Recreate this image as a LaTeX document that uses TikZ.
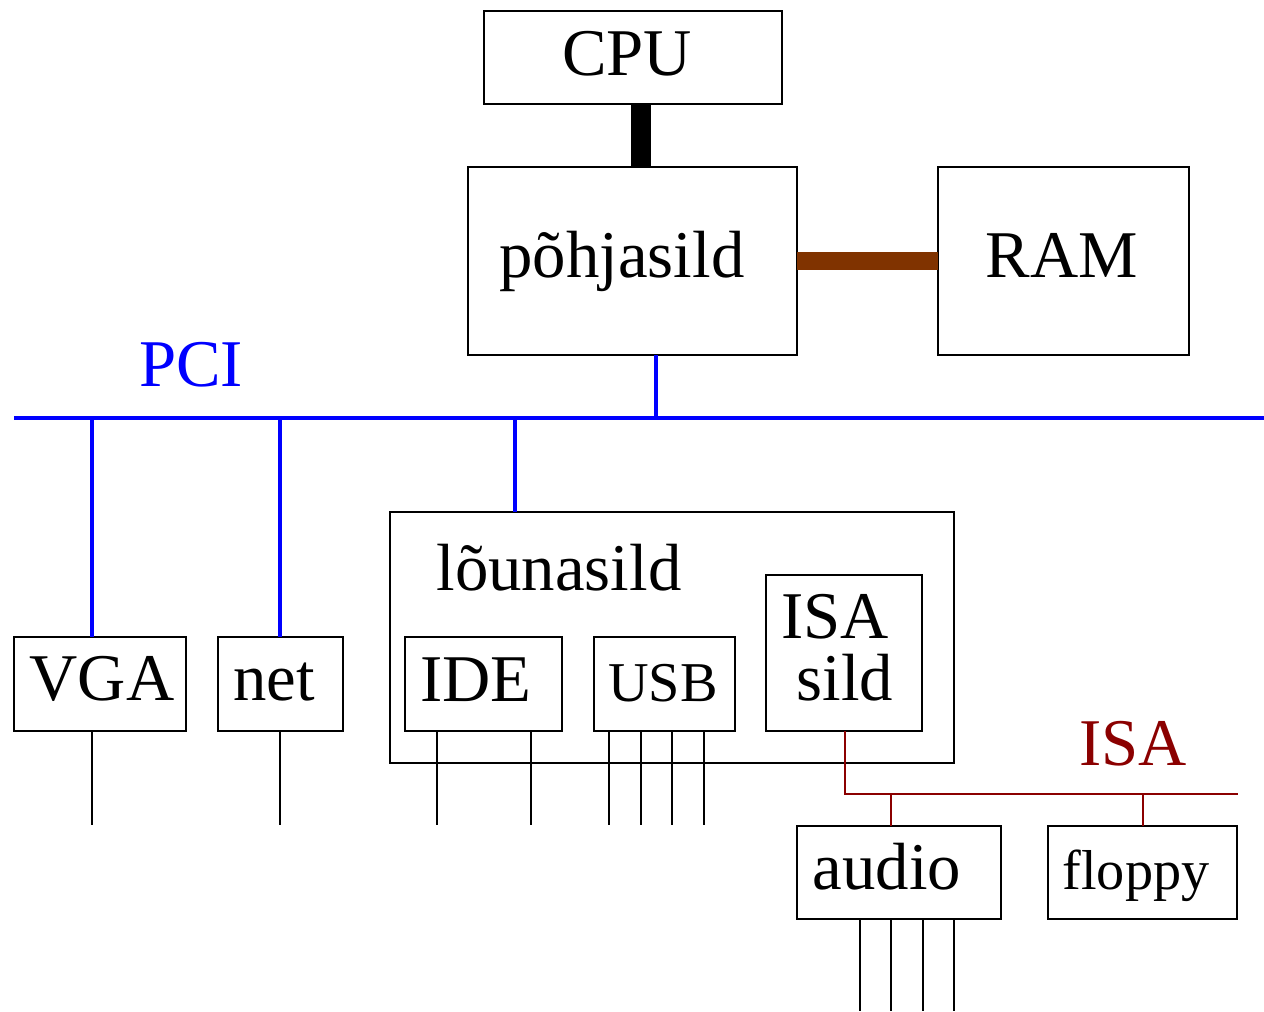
\documentclass[tikz,border=0pt]{standalone}
\usepackage{fontspec}
\setmainfont{Liberation Serif}
\definecolor{pciblue}{RGB}{0,0,255}
\definecolor{isared}{RGB}{139,0,0}
\definecolor{rambrown}{RGB}{128,51,0}
\begin{document}
\begin{tikzpicture}[x=0.02cm,y=-0.02cm,
  box/.style={draw=black,line width=1.5pt,inner sep=0pt,outer sep=0pt,fill=none},
  big/.style={font=\fontsize{38}{44}\selectfont,anchor=base,inner sep=0pt},
  small/.style={font=\fontsize{32}{38}\selectfont,anchor=base,inner sep=0pt},
  pcibus/.style={draw=pciblue,line width=2.6pt},
  isabus/.style={draw=isared,line width=1.3pt},
  wire/.style={draw=black,line width=1.1pt},
  cpubus/.style={draw=black,line width=11pt},
  membus/.style={draw=rambrown,line width=10.5pt}]
\useasboundingbox (0,0) rectangle (1264,1011);
% boxes
\node[box,minimum width=5.96cm,minimum height=1.86cm] (cpu) at (633,57.5) {};
\node[box,minimum width=6.58cm,minimum height=3.76cm] (nb) at (632.5,261) {};
\node[box,minimum width=5.02cm,minimum height=3.76cm] (ram) at (1063.5,261) {};
\node[box,minimum width=3.44cm,minimum height=1.88cm] (vga) at (100,684) {};
\node[box,minimum width=2.50cm,minimum height=1.88cm] (net) at (280.5,684) {};
\node[box,minimum width=11.28cm,minimum height=5.02cm] (sb) at (672,637.5) {};
\node[box,minimum width=3.14cm,minimum height=1.88cm] (ide) at (483.5,684) {};
\node[box,minimum width=2.82cm,minimum height=1.88cm] (usb) at (664.5,684) {};
\node[box,minimum width=3.12cm,minimum height=3.12cm] (isab) at (844,653) {};
\node[box,minimum width=4.08cm,minimum height=1.86cm] (audio) at (899,872.5) {};
\node[box,minimum width=3.78cm,minimum height=1.86cm] (floppy) at (1142.5,872.5) {};
% labels
\node[big] (tcpu) at (627,75) {CPU};
\node[big] (tnb) at (622,277) {põhjasild};
\node[big] (tram) at (1062,277) {RAM};
\node[big,text=pciblue] (tpci) at (191,386) {PCI};
\node[big] (tsb) at (559,590) {lõunasild};
\node[big] (tvga) at (102,700) {VGA};
\node[big] (tnet) at (274,700) {net};
\node[big] (tide) at (476,701) {IDE};
\node[small] (tusb) at (663,701) {USB};
\node[big] (tisa1) at (835,638) {ISA};
\node[big] (tisa2) at (845,700) {sild};
\node[big,text=isared] (tisa) at (1133,765) {ISA};
\node[big] (taudio) at (887,889) {audio};
\node[small] (tfloppy) at (1136,889) {floppy};
% coordinates
\coordinate (xcpu) at (641,0);
\coordinate (xnb) at (656,0);
\coordinate (pciL) at (14,418);
\coordinate (pciR) at (1264,418);
\coordinate (xvga) at (92,0);
\coordinate (xnet) at (280,0);
\coordinate (xsb) at (515,0);
\coordinate (isaR) at (1238,794);
\coordinate (xaud) at (891,0);
\coordinate (xflp) at (1143,0);
\coordinate (bot) at (0,825);
\coordinate (bot2) at (0,1011);
% buses
\draw[cpubus] (cpu.south -| xcpu) -- (nb.north -| xcpu);
\draw[membus] (nb.east) -- (ram.west);
\draw[pcibus] (pciL) -- (pciR);
\draw[pcibus] (nb.south -| xnb) -- (pciL -| xnb);
\draw[pcibus] (pciL -| xvga) -- (vga.north -| xvga);
\draw[pcibus] (pciL -| xnet) -- (net.north -| xnet);
\draw[pcibus] (pciL -| xsb) -- (sb.north -| xsb);
\draw[isabus] (isab.south -| 845,0) |- (isaR);
\draw[isabus] (isaR -| xaud) -- (audio.north -| xaud);
\draw[isabus] (isaR -| xflp) -- (floppy.north -| xflp);
% device wires
\draw[wire] (vga.south -| xvga) -- (bot -| xvga);
\draw[wire] (net.south -| xnet) -- (bot -| xnet);
\foreach \x in {437,531} \draw[wire] (ide.south -| \x,0) -- (bot -| \x,0);
\foreach \x in {609,641,672,704} \draw[wire] (usb.south -| \x,0) -- (bot -| \x,0);
\foreach \x in {860,891,923,954} \draw[wire] (audio.south -| \x,0) -- (bot2 -| \x,0);
\end{tikzpicture}
\end{document}
